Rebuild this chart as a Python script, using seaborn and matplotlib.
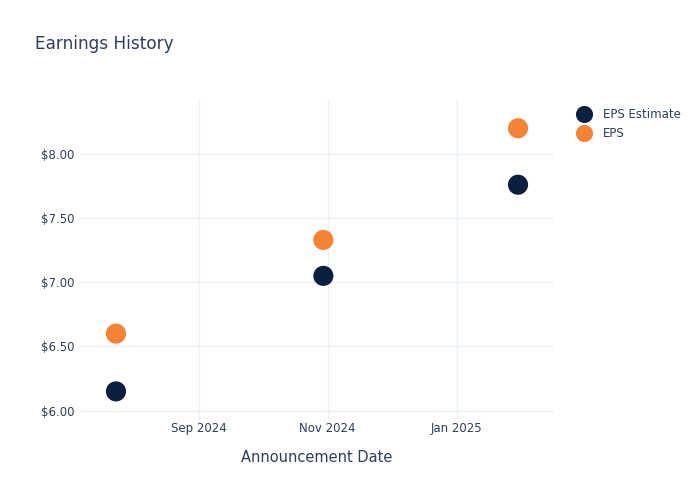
import matplotlib
matplotlib.use("Agg")
import matplotlib.pyplot as plt
import matplotlib.dates as mdates
from matplotlib.ticker import FuncFormatter
import seaborn as sns
import pandas as pd

dates = ["2024-07-24", "2024-10-30", "2025-01-30"]
eps_estimate = [6.15, 7.05, 7.76]
eps_actual = [6.60, 7.33, 8.20]
series_names = ["EPS Estimate", "EPS"]
colors = {"EPS Estimate": "#0B1F40", "EPS": "#F58235"}

df = pd.DataFrame({
    "date": pd.to_datetime(dates * 2),
    "value": eps_estimate + eps_actual,
    "series": [series_names[0]] * 3 + [series_names[1]] * 3,
})

sns.set_style("white")
plt.rcParams['font.family'] = ['DejaVu Sans']
text_color = "#2A3F5F"

fig = plt.figure(figsize=(7, 5), dpi=100)
ax = fig.add_axes([80 / 700, 80 / 500, 474 / 700, 320 / 500])

sns.scatterplot(data=df, x="date", y="value", hue="series", palette=colors,
                hue_order=series_names, s=210, linewidth=0, ax=ax, zorder=3)

ax.set_xlim(pd.Timestamp("2024-07-07"), pd.Timestamp("2025-02-16"))
ax.set_ylim(5.927, 8.42)
ax.set_yticks([6.0, 6.5, 7.0, 7.5, 8.0])
ax.yaxis.set_major_formatter(FuncFormatter(lambda v, p: f"${v:.2f}"))
ax.xaxis.set_major_locator(mdates.MonthLocator(bymonth=[1, 3, 5, 7, 9, 11]))
ax.xaxis.set_major_formatter(mdates.DateFormatter("%b %Y"))

ax.grid(True, color="#EBF0F8", linewidth=1)
ax.set_axisbelow(True)
for s in ax.spines.values():
    s.set_visible(False)
ax.tick_params(axis="both", length=0, labelsize=8.5, colors=text_color)
ax.tick_params(axis="x", pad=1.5)
ax.tick_params(axis="y", pad=4)

ax.set_xlabel("Announcement Date", fontsize=10.5, color=text_color, labelpad=10.5)
ax.set_ylabel("")

fig.text(35 / 700, 1 - 44 / 500, "Earnings History", fontsize=12.2,
         color=text_color, va="center", ha="left")

leg = ax.legend(loc="upper left", bbox_to_anchor=(566 / 700, 1 - 102 / 500),
                bbox_transform=fig.transFigure, frameon=False, fontsize=8.5,
                handletextpad=0.6, labelspacing=0.5, borderpad=0,
                markerscale=0.85)
for t in leg.get_texts():
    t.set_color(text_color)

fig.savefig("out.png", dpi=100)
